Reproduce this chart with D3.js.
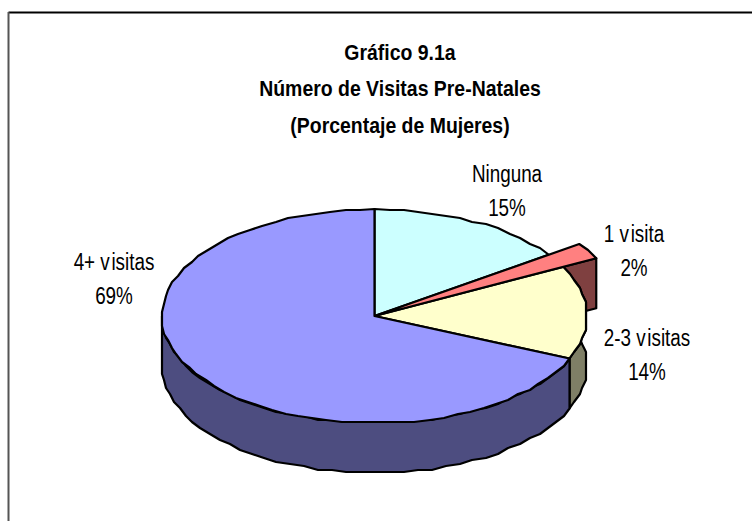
<!DOCTYPE html>
<html><head><meta charset="utf-8">
<script src="https://cdn.jsdelivr.net/npm/d3@7"></script>
<style>html,body{margin:0;padding:0;background:#fff}svg{display:block}text{font-family:"Liberation Sans",Arial,sans-serif;fill:#000}</style>
</head><body><svg id="c" width="752" height="521"></svg>
<script>
const categories = ["Ninguna","1 visita","2-3 visitas","4+ visitas"];
const values = [15.3,2.1,14.1,68.5];
const topColors = ["#ccffff","#ff8080","#ffffcc","#9999ff"];
const wallColors = ["#667f7f","#7f4040","#7f7f66","#4d4d80"];
const titleLines = ["Gráfico 9.1a","Número de Visitas Pre-Natales","(Porcentaje de Mujeres)"];

const svg = d3.select("#c");
const W = 752, H = 521;
svg.append("rect").attr("width",W).attr("height",H).attr("fill","#fff");
svg.append("line").attr("x1",8.5).attr("x2",W).attr("y1",12.5).attr("y2",12.5).attr("stroke","#000").attr("stroke-width",2);
svg.append("line").attr("x1",8.5).attr("x2",8.5).attr("y1",12).attr("y2",H).attr("stroke","#555").attr("stroke-width",2);

const sx = d3.scaleLinear().domain([-1,1]).range([162,587]);
const sy = d3.scaleLinear().domain([-1,1]).range([209,423]);
const depth = 50, explodeFactor = 1.175, snap = 2;
const pie = d3.pie().sort(null).value(d=>d).startAngle(0).endAngle(2*Math.PI);
const arcs = pie(values);
const rnd = v => Math.round(v/snap)*snap;
const exact = (a,r,dz)=>[sx(r*Math.sin(a)),sy(-r*Math.cos(a))+dz];
const pt = (a,r=1,dz=0)=>{const p=exact(a,r,dz);return [rnd(p[0]),rnd(p[1])];};
const STEP = 2*Math.PI/90;
function rim(a0,a1,r,dz){
  const n=Math.max(1,Math.ceil((a1-a0)/STEP)),out=[exact(a0,r,dz)];
  for(let i=1;i<n;i++) out.push(pt(a0+(a1-a0)*i/n,r,dz));
  out.push(exact(a1,r,dz));
  return out;
}
const line = d3.line().curve(d3.curveLinearClosed);
function poly(p,fill){
  svg.append("path").attr("d",line(p)).attr("fill",fill).attr("stroke","#000")
     .attr("stroke-width",2.2).attr("stroke-linejoin","round");
}
function wall(i,r){
  const a0=arcs[i].startAngle, a1=Math.min(arcs[i].endAngle,Math.PI*1.5);
  poly(rim(a0,a1,r,0).concat(rim(a0,a1,r,depth).reverse()),wallColors[i]);
}
function face(i,r){
  poly([exact(0,0,0)].concat(rim(arcs[i].startAngle,arcs[i].endAngle,r,0)),topColors[i]);
}
// exploded slice: its end cap sits behind the neighbouring slice
const a1End = arcs[1].endAngle;
poly([exact(0,0,0),exact(a1End,explodeFactor,0),exact(a1End,explodeFactor,depth),exact(0,0,depth)],wallColors[1]);
wall(2,1);
face(2,1);
face(0,1);
face(1,explodeFactor);
wall(3,1);
face(3,1);

function txt(s,x,y,size,weight,sxf){
  const t=svg.append("text").attr("transform",`translate(${x},${y}) scale(${sxf},1)`)
    .attr("text-anchor","middle").attr("font-size",size).attr("font-weight",weight);
  const k=s.indexOf(" visita");
  if(k>=0){
    t.append("tspan").text(s.slice(0,k+2));
    t.append("tspan").attr("dx",2).text(s.slice(k+2));
  } else t.text(s);
}
const titleY=[60,96,133];
titleLines.forEach((t,i)=>txt(t,400,titleY[i],22,"bold",0.884));
const labelPos=[[507,182],[634,242],[647,346],[114,270]];
const pct=d3.format(".0f");
categories.forEach((c,i)=>{
  txt(c,labelPos[i][0],labelPos[i][1],23,"normal",0.82);
  txt(pct(values[i])+"%",labelPos[i][0],labelPos[i][1]+34,23,"normal",0.82);
});
</script></body></html>
